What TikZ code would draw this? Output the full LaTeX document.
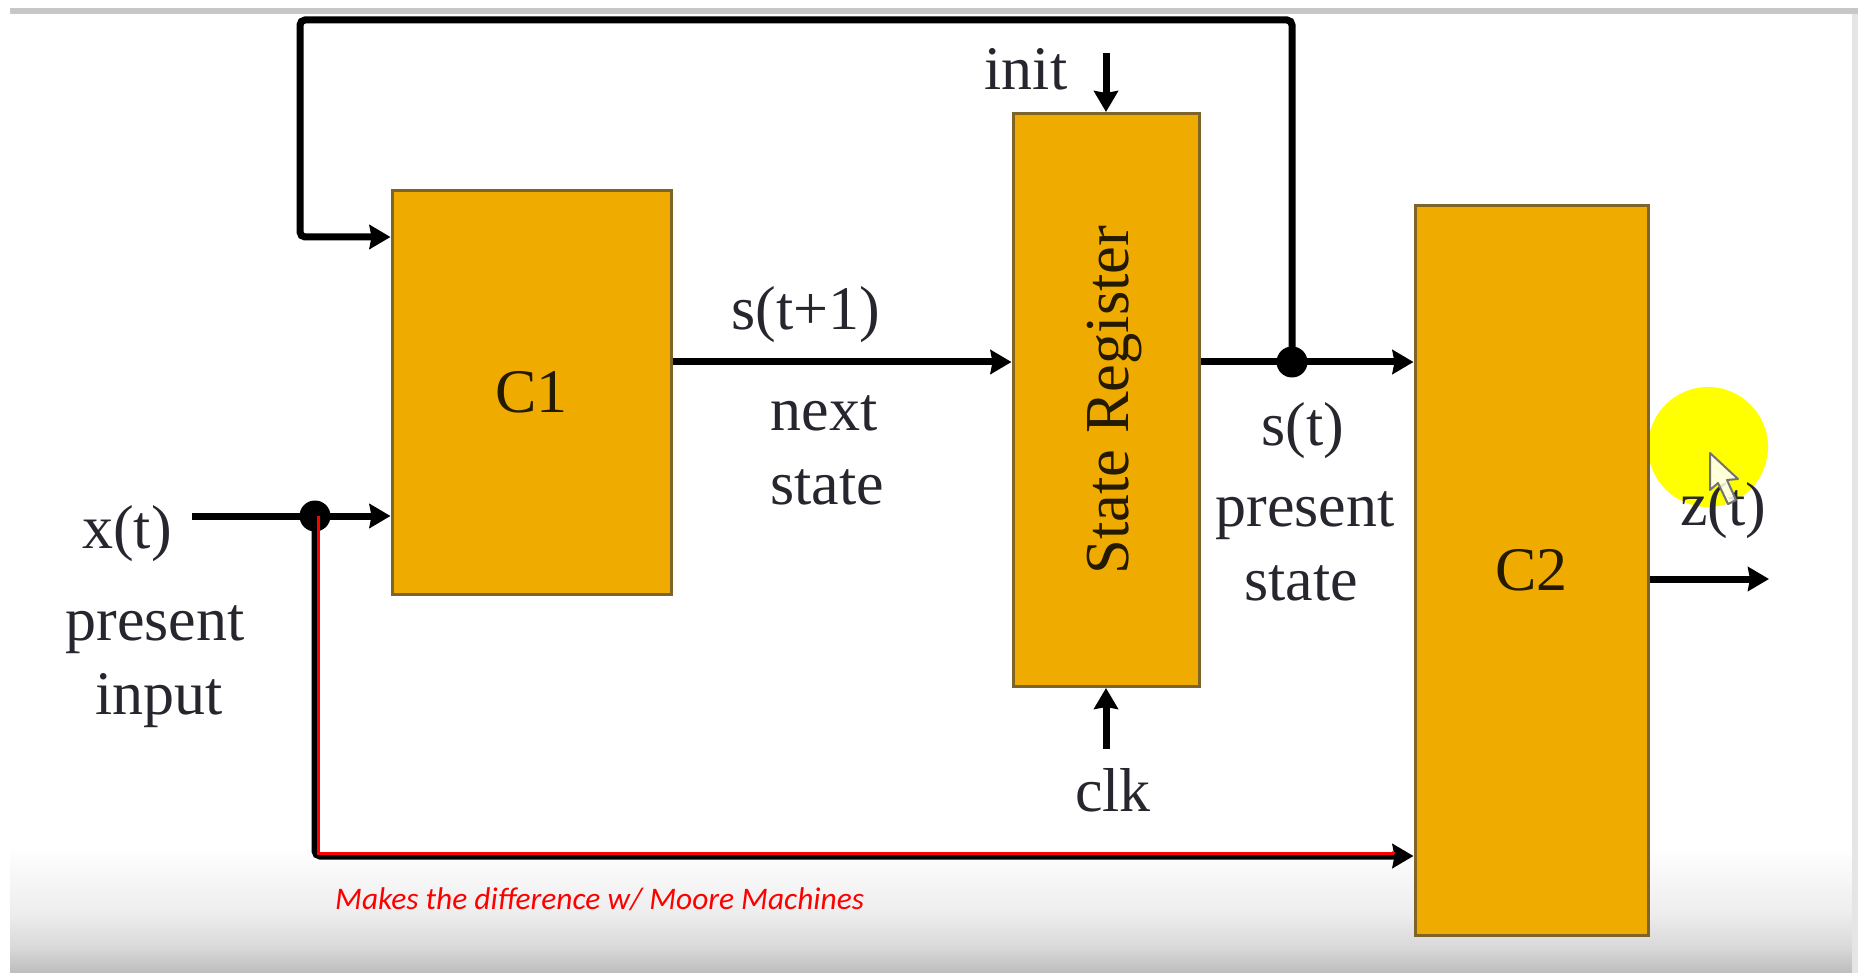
\documentclass[tikz,border=0pt]{standalone}
\usepackage{fontspec}
\setmainfont{Liberation Serif}
\newfontfamily\notefont{Carlito}
\usetikzlibrary{arrows.meta,calc}
\definecolor{boxfill}{HTML}{F0AB00}
\definecolor{boxline}{HTML}{7E6428}
\definecolor{inktext}{HTML}{26262E}
\definecolor{pureyellow}{RGB}{255,255,0}
\definecolor{purered}{RGB}{255,0,0}
\tikzset{
  blockbox/.style={draw=boxline,fill=boxfill,line width=3pt,inner sep=0pt,text=black!85!boxfill},
  wire/.style={line width=7pt,black,rounded corners=5pt},
  arrowwire/.style={wire,-{Stealth[length=21pt,width=24pt,inset=2pt]}},
  dotnode/.style={circle,fill=black,inner sep=0pt,minimum size=31pt},
  lab/.style={font=\fontsize{62}{64}\selectfont,text=inktext,inner sep=0pt},
  blocklab/.style={font=\fontsize{62}{64}\selectfont},
  redwire/.style={line width=3pt,purered,-{Stealth[length=4pt,width=4pt]}},
  note/.style={font=\notefont\itshape\fontsize{31.4}{33}\selectfont,text=purered,inner sep=0pt,anchor=west},
}
\begin{document}
\begin{tikzpicture}[x=1pt,y=-1pt]
\useasboundingbox (0,0) rectangle (1858,973);
% screen background
\fill[white] (0,0) rectangle (1858,973);
\shade[top color=white,bottom color=black!7] (10,847) rectangle (1852,913);
\shade[top color=black!7,bottom color=black!15] (10,913) rectangle (1852,947);
\shade[top color=black!15,bottom color=black!26] (10,947) rectangle (1852,973);
\fill[black!22] (10,8) rectangle (1858,14);
\fill[black!10] (1852,14) rectangle (1858,973);
% pointer highlight
\fill[pureyellow] (1708,447) circle (60);
% blocks
\node[blockbox,blocklab,minimum width=279pt,minimum height=403pt] (c1) at (531.5,392.5) {\raisebox{-3pt}{C1}};
\node[blockbox,minimum width=186pt,minimum height=573pt] (sr) at (1106,400) {\hspace*{18pt}\rotatebox{90}{\fontsize{62.5}{64}\selectfont State Register}};
\node[blockbox,blocklab,minimum width=233pt,minimum height=729pt] (c2) at (1531.5,570.5) {\raisebox{-3pt}{C2}};
% junctions and free ends
\node[dotnode] (j1) at (1292,362) {};
\node[dotnode] (j2) at (315,516) {};
\coordinate (fbtopl) at (300,20);
\coordinate (fbtopr) at (1292,20);
\coordinate (fbin) at (300,237);
\coordinate (xstart) at (192,516);
\coordinate (low) at (315,856);
\coordinate (initstart) at (1106,53);
\coordinate (clkstart) at (1106,749);
\coordinate (zend) at (1769,579);
% connectors
\draw[arrowwire] (j1.center) |- (fbtopl) -- (fbin) -- (c1.west |- fbin);
\draw[arrowwire] (c1.east |- j1) -- (sr.west |- j1);
\draw[wire] (sr.east |- j1) -- (j1.center);
\draw[arrowwire] (j1.center) -- (c2.west |- j1);
\draw[arrowwire] (xstart) -- (c1.west |- xstart);
\draw[arrowwire] (j2.center) -- (low) -- (c2.west |- low);
\draw[arrowwire] (initstart) -- (sr.north);
\draw[arrowwire] (clkstart) -- (sr.south);
\draw[arrowwire] (c2.east |- zend) -- (zend);
% red overlay
\coordinate (r1) at (318,516);
\coordinate (r2) at (318,853);
\coordinate (r3) at (1396,853);
\draw[redwire] (r1) -- (r2) -- (r3);
% labels
\node[lab] (tinit) at (1026,69) {init};
\node[lab] (tsnext) at (806,315) {s(t+1)};
\node[lab] (tnext) at (824,413) {next};
\node[lab] (tstate) at (827,487) {state};
\node[lab] (tx) at (127,534) {x(t)};
\node[lab] (tpres) at (155,630) {present};
\node[lab] (tinput) at (159,701) {input};
\node[lab] (ts) at (1303,431) {s(t)};
\node[lab] (tpres2) at (1305,516) {present};
\node[lab] (tstate2) at (1301,583) {state};
\node[lab] (tz) at (1723,511) {z(t)};
\node[lab] (tclk) at (1113,790) {clk};
\node[note] (tnote) at (335,899) {Makes the difference w/ Moore Machines};
% mouse pointer
\draw[black!55,fill=white,fill opacity=.85,line width=2pt,line join=round]
  (1710,453) -- (1710,490) -- (1718,483) -- (1728,504) -- (1736,500) -- (1727,480) -- (1738,479) -- cycle;
\end{tikzpicture}
\end{document}
